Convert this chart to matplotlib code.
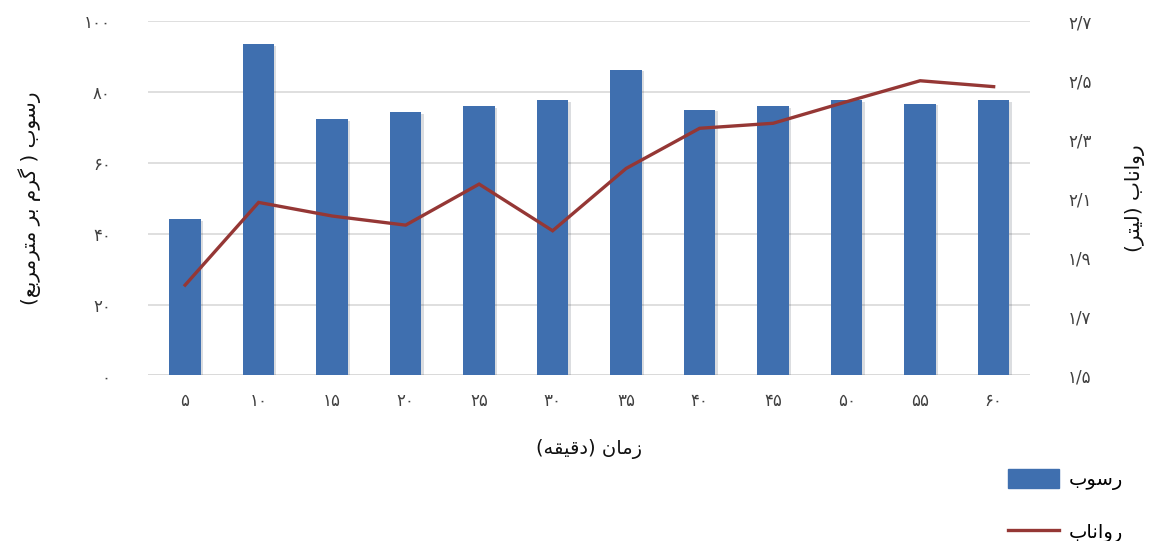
import matplotlib.pyplot as plt
import matplotlib.patheffects as pe
from matplotlib.lines import Line2D
from matplotlib.patches import Patch
import numpy as np

# contextual forms: isolated, final, initial, medial (None -> letter does not join forward)
FORMS = {
    "ا": ("\uFE8D", "\uFE8E", None, None),
    "ب": ("\uFE8F", "\uFE90", "\uFE91", "\uFE92"),
    "ت": ("\uFE95", "\uFE96", "\uFE97", "\uFE98"),
    "د": ("\uFEA9", "\uFEAA", None, None),
    "ر": ("\uFEAD", "\uFEAE", None, None),
    "ز": ("\uFEAF", "\uFEB0", None, None),
    "س": ("\uFEB1", "\uFEB2", "\uFEB3", "\uFEB4"),
    "ع": ("\uFEC9", "\uFECA", "\uFECB", "\uFECC"),
    "ق": ("\uFED5", "\uFED6", "\uFED7", "\uFED8"),
    "ل": ("\uFEDD", "\uFEDE", "\uFEDF", "\uFEE0"),
    "م": ("\uFEE1", "\uFEE2", "\uFEE3", "\uFEE4"),
    "ن": ("\uFEE5", "\uFEE6", "\uFEE7", "\uFEE8"),
    "ه": ("\uFEE9", "\uFEEA", "\uFEEB", "\uFEEC"),
    "و": ("\uFEED", "\uFEEE", None, None),
    "ی": ("\uFBFC", "\uFBFD", "\uFBFE", "\uFBFF"),
    "گ": ("\uFB92", "\uFB93", "\uFB94", "\uFB95"),
}
MIRROR = {"(": ")", ")": "("}


def fa(text):
    """Shape Persian letters and lay them out right-to-left for plain LTR rendering."""
    out = []
    for i, ch in enumerate(text):
        if ch not in FORMS:
            out.append(ch)
            continue
        prev = text[i - 1] if i > 0 else ""
        nxt = text[i + 1] if i + 1 < len(text) else ""
        joins_prev = prev in FORMS and FORMS[prev][2] is not None
        joins_next = nxt in FORMS and FORMS[ch][2] is not None
        iso, fin, ini, med = FORMS[ch]
        if joins_prev and joins_next:
            out.append(med)
        elif joins_prev:
            out.append(fin)
        elif joins_next:
            out.append(ini)
        else:
            out.append(iso)
    return "".join(MIRROR.get(c, c) for c in reversed(out))


def fa_num(s):
    return s.translate(str.maketrans("0123456789.", "۰۱۲۳۴۵۶۷۸۹/"))


minutes = [5, 10, 15, 20, 25, 30, 35, 40, 45, 50, 55, 60]
sediment = [44.1, 93.4, 72.3, 74.3, 76.0, 77.7, 86.2, 75.0, 76.0, 77.6, 76.7, 77.6]
runoff = [1.806, 2.086, 2.04, 2.009, 2.148, 1.99, 2.201, 2.337, 2.354, 2.427, 2.498, 2.478]

left_ticks = [0, 20, 40, 60, 80, 100]
right_ticks = [1.5, 1.7, 1.9, 2.1, 2.3, 2.5, 2.7]

bar_color = "#3F6FAF"
line_color = "#953735"
tick_color = "#404040"

plt.rcParams["font.family"] = ["DejaVu Sans"]

fig = plt.figure(figsize=(11.5, 5.41), dpi=100)
ax = fig.add_axes([0.129, 0.306, 0.767, 0.655])
ax2 = ax.twinx()

x = np.arange(len(minutes))
ax.bar(x, sediment, width=0.43, color=bar_color, zorder=2,
       path_effects=[pe.SimplePatchShadow(offset=(1.5, -1), alpha=0.15), pe.Normal()])
ax2.plot(x, runoff, color=line_color, lw=2.4, solid_joinstyle="miter", zorder=3)

ax.set_xlim(-0.5, len(minutes) - 0.5)
ax.set_ylim(0, 100)
ax2.set_ylim(1.5, 2.7)

ax.set_yticks(left_ticks)
ax.set_yticklabels([fa_num(str(v)) for v in left_ticks])
ax2.set_yticks(right_ticks)
ax2.set_yticklabels([fa_num(f"{v:.1f}") for v in right_ticks])
ax.set_xticks(x)
ax.set_xticklabels([fa_num(str(m)) for m in minutes])

ax.grid(axis="y", color="#D9D9D9", lw=1.2, zorder=0)
ax.set_axisbelow(True)
for a in (ax, ax2):
    for s in a.spines.values():
        s.set_visible(False)
    a.tick_params(length=0, labelsize=12, colors=tick_color)
ax.tick_params(axis="y", pad=27)
ax2.tick_params(axis="y", pad=27)
ax.tick_params(axis="x", pad=12)
ax.axhline(0, color="#D9D9D9", lw=1.2, zorder=1)

ax.set_xlabel(fa("زمان (دقیقه)"), fontsize=14, labelpad=21, color="#111111")
ax.set_ylabel(fa("رسوب ( گرم بر مترمربع)"), fontsize=14.5, labelpad=31, color="#111111")
ax2.set_ylabel(fa("رواناب (لیتر)"), fontsize=14.5, labelpad=24, color="#111111", rotation=90)

handles = [Patch(facecolor=bar_color, edgecolor=bar_color),
           Line2D([], [], color=line_color, lw=2.4)]
fig.legend(handles, [fa("رسوب"), fa("رواناب")], loc="upper left",
           bbox_to_anchor=(0.861, 0.166), frameon=False, fontsize=14,
           handlelength=2.65, handleheight=1.15, labelspacing=1.62, handletextpad=0.5)

fig.savefig("out.png", dpi=100, facecolor="white")
